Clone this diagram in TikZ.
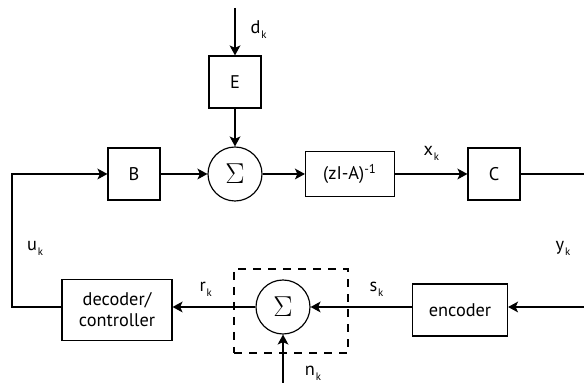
\documentclass[tikz,border=0pt]{standalone}
\usepackage{fontspec}
\setmainfont{PT Sans}
\usepackage{tikz}
\usetikzlibrary{arrows.meta, positioning}
\newcommand{\idx}[1]{\kern0.5pt\raisebox{-0.55ex}{\fontsize{6.5}{7}\selectfont #1}}
\tikzset{
  block/.style={draw, line width=0.7pt, align=center, font=\fontsize{11}{12.5}\selectfont,
                minimum width=31.2pt, minimum height=31.2pt, inner sep=2pt},
  sumnode/.style={draw, circle, line width=0.7pt, minimum size=32.4pt, inner sep=0pt,
                  font=\fontsize{18}{18}\selectfont},
  sigarrow/.style={-{Stealth[length=6pt, width=6.5pt, inset=1.5pt]}, line width=0.7pt},
  sigline/.style={line width=0.7pt},
  siglabel/.style={font=\fontsize{11}{12.5}\selectfont, inner sep=1pt}
}

\begin{document}
\begin{tikzpicture}[
  x=0.6pt, y=0.6pt,
  wideblock/.style={block, minimum width=53.4pt, minimum height=27pt},
  channel/.style={draw, dash pattern=on 5pt off 4pt, line width=0.7pt,
                  minimum width=68.4pt, minimum height=50.4pt},
]
\useasboundingbox (0,0) rectangle (584,387);

% Plant
\node[block]     (E)    at (235,305) {E};
\node[sumnode]   (sum1) at (235,213) {$\Sigma$};
\node[block]     (B)    at (134,213) {B};
\node[wideblock] (inv)  at (350,213) {(zI-A)\textsuperscript{-1}};
\node[block]     (C)    at (494,213) {C};

% Feedback path
\node[block, minimum width=57pt] (enc) at (460,77) {encoder};
\node[sumnode]   (sum2) at (283,80) {$\Sigma$};
\node[channel]   (chan) at (291,76) {};
\node[block, minimum width=66pt, minimum height=36.6pt] (dec) at (117,77) {decoder/\\controller};

% Loose ends
\coordinate (din) at (235,379);
\coordinate (nin) at (283,4);
\coordinate (rt)  at (584,213);
\coordinate (rb)  at (584,80);
\coordinate (lb)  at (12,80);
\coordinate (lt)  at (12,213);

% Arrows
\draw[sigarrow] (din) -- node[siglabel, pos=0.45, right=8pt] (dk) {d\idx{k}} (E);
\draw[sigarrow] (E) -- (sum1);
\draw[sigarrow] (B) -- (sum1);
\draw[sigarrow] (sum1) -- (inv);
\draw[sigarrow] (inv) -- node[siglabel, above=7pt] (xk) {x\idx{k}} (C);
\draw[sigline]  (C) -- (rt);
\draw[sigarrow] (rb) -- (rb -| enc.east);
\draw[sigarrow] (enc.west |- sum2) -- node[siglabel, pos=0.35, above=5pt] (sk) {s\idx{k}} (sum2);
\draw[sigarrow] (nin) -- (sum2);
\draw[sigarrow] (sum2) -- node[siglabel, pos=0.6, above=5pt] (rk) {r\idx{k}} (sum2 -| dec.east);
\draw[sigarrow] (dec.west |- lb) -- (lb) -- (lt) -- (B);

% Signal names
\node[siglabel] (uk) at (35,139)  {u\idx{k}};
\node[siglabel] (yk) at (563,139) {y\idx{k}};
\node[siglabel] (nk) at (313,14)  {n\idx{k}};

\end{tikzpicture}
\end{document}
